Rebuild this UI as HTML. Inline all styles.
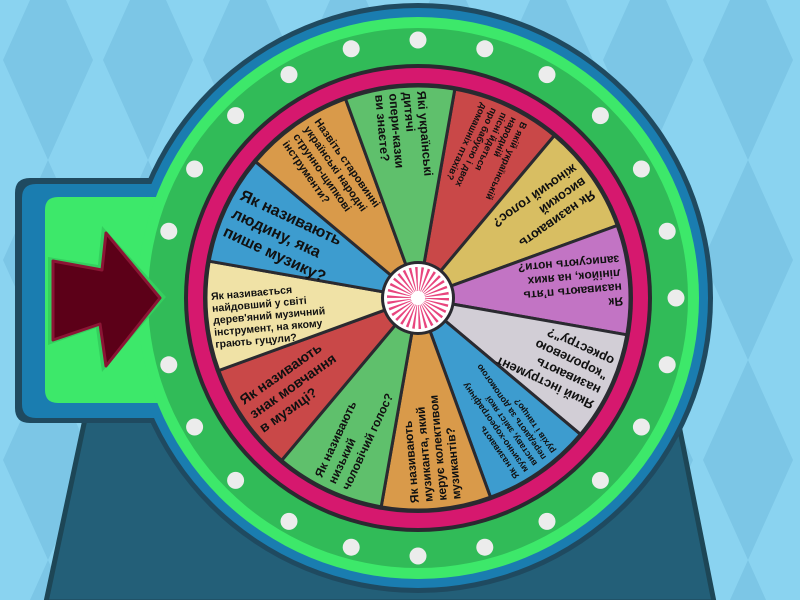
<!DOCTYPE html>
<html><head><meta charset="utf-8"><style>
html,body{margin:0;padding:0;width:800px;height:600px;overflow:hidden;background:#8ad3f0}
svg{display:block}
text{font-family:"Liberation Sans","DejaVu Sans",sans-serif;font-weight:bold;fill:#111}
</style></head><body>
<svg width="800" height="600" viewBox="0 0 800 600" xmlns="http://www.w3.org/2000/svg">
<defs>
<pattern id="bg" width="100" height="200" patternUnits="userSpaceOnUse" x="-2" y="-40">
<rect width="100" height="200" fill="#8ad3f0"/>
<polygon points="50,0 95,100 50,200 5,100" fill="#7cc6e6"/>
</pattern>
</defs>
<rect width="800" height="600" fill="url(#bg)"/>
<!-- pedestal -->
<polygon points="88,405 675,405 714,602 46,602" fill="#235f78" stroke="#1d4656" stroke-width="5"/>
<!-- tab + rings as unions -->
<path d="M30,178 H300 V423 H30 Q15,423 15,408 V193 Q15,178 30,178 Z" fill="#1f4a60"/>
<circle cx="418" cy="298" r="295" fill="#1f4a60"/>
<path d="M36,184 H300 V418 H36 Q22,418 22,404 V198 Q22,184 36,184 Z" fill="#1a7db0"/>
<circle cx="418" cy="298" r="290" fill="#1a7db0"/>
<path d="M58,197 H300 V403 H58 Q45,403 45,390 V210 Q45,197 58,197 Z" fill="#3de86a"/>
<circle cx="418" cy="298" r="281" fill="#3de86a"/>
<circle cx="418" cy="298" r="270" fill="#31bb58"/>
<circle cx="418" cy="298" r="234" fill="#2a2a30"/>
<circle cx="418" cy="298" r="230" fill="#d6186e"/>
<circle cx="418" cy="298" r="215" fill="#2a2a30"/>
<!-- dots -->
<g fill="#ececec">
<circle cx="676" cy="298" r="8.5"/><circle cx="667.2" cy="364.8" r="8.5"/><circle cx="641.4" cy="427" r="8.5"/><circle cx="600.4" cy="480.4" r="8.5"/><circle cx="547" cy="521.4" r="8.5"/><circle cx="484.8" cy="547.2" r="8.5"/><circle cx="418" cy="556" r="8.5"/><circle cx="351.2" cy="547.2" r="8.5"/><circle cx="289" cy="521.4" r="8.5"/><circle cx="235.6" cy="480.4" r="8.5"/><circle cx="194.6" cy="427" r="8.5"/><circle cx="168.8" cy="364.8" r="8.5"/><circle cx="168.8" cy="231.2" r="8.5"/><circle cx="194.6" cy="169" r="8.5"/><circle cx="235.6" cy="115.6" r="8.5"/><circle cx="289" cy="74.6" r="8.5"/><circle cx="351.2" cy="48.8" r="8.5"/><circle cx="418" cy="40" r="8.5"/><circle cx="484.8" cy="48.8" r="8.5"/><circle cx="547" cy="74.6" r="8.5"/><circle cx="600.4" cy="115.6" r="8.5"/><circle cx="641.4" cy="169" r="8.5"/><circle cx="667.2" cy="231.2" r="8.5"/>
</g>
<!-- wedges -->
<g stroke="#2a2a30" stroke-width="3" stroke-linejoin="round">
<path d="M418,298 L454.8,89.2 A212,212 0 0 1 554.3,135.6 Z" fill="#c94848"/>
<path d="M418,298 L554.3,135.6 A212,212 0 0 1 617.2,225.5 Z" fill="#d8be62"/>
<path d="M418,298 L617.2,225.5 A212,212 0 0 1 626.8,334.8 Z" fill="#c274c4"/>
<path d="M418,298 L626.8,334.8 A212,212 0 0 1 580.4,434.3 Z" fill="#d2ced6"/>
<path d="M418,298 L580.4,434.3 A212,212 0 0 1 490.5,497.2 Z" fill="#3d9ccf"/>
<path d="M418,298 L490.5,497.2 A212,212 0 0 1 381.2,506.8 Z" fill="#d99a4a"/>
<path d="M418,298 L381.2,506.8 A212,212 0 0 1 281.7,460.4 Z" fill="#5fc06c"/>
<path d="M418,298 L281.7,460.4 A212,212 0 0 1 218.8,370.5 Z" fill="#c94848"/>
<path d="M418,298 L218.8,370.5 A212,212 0 0 1 209.2,261.2 Z" fill="#f0e2a6"/>
<path d="M418,298 L209.2,261.2 A212,212 0 0 1 255.6,161.7 Z" fill="#3d9ccf"/>
<path d="M418,298 L255.6,161.7 A212,212 0 0 1 345.5,98.8 Z" fill="#d99a4a"/>
<path d="M418,298 L345.5,98.8 A212,212 0 0 1 454.8,89.2 Z" fill="#5fc06c"/>
</g>
<!-- texts -->
<g transform="translate(418,298) rotate(115)" font-size="9.5"><text x="-204" y="-19">В якій українській</text><text x="-204" y="-8">народній</text><text x="-204" y="3">пісні йдеться</text><text x="-204" y="14">про бабусю і двох</text><text x="-204" y="25">домашніх птахів?</text></g>
<g transform="translate(418,298) rotate(145)" font-size="13"><text x="-204" y="-11">Як називають</text><text x="-204" y="5">високий</text><text x="-204" y="21">жіночий голос?</text></g>
<g transform="translate(418,298) rotate(175)" font-size="12"><text x="-204" y="-17">Як</text><text x="-204" y="-3">називають п’ять</text><text x="-204" y="11">лінійок, на яких</text><text x="-204" y="25">записують ноти?</text></g>
<g transform="translate(418,298) rotate(205)" font-size="13"><text x="-204" y="-19">Який інструмент</text><text x="-204" y="-3">називають</text><text x="-204" y="13">"королевою</text><text x="-204" y="29">оркестру"?</text></g>
<g transform="translate(418,298) rotate(235)" font-size="9"><text x="-204" y="-19">Як називають</text><text x="-204" y="-8">музично-хореографічну</text><text x="-204" y="3">виставу, зміст якої</text><text x="-204" y="14">передають за допомогою</text><text x="-204" y="25">рухів і танцю?</text></g>
<g transform="translate(418,298) rotate(265)" font-size="12"><text x="-204" y="-17">Як називають</text><text x="-204" y="-3">музиканта, який</text><text x="-204" y="11">керує колективом</text><text x="-204" y="25">музикантів?</text></g>
<g transform="translate(418,298) rotate(295)" font-size="12"><text x="-204" y="-11">Як називають</text><text x="-204" y="4">низький</text><text x="-204" y="19">чоловічий голос?</text></g>
<g transform="translate(418,298) rotate(325)" font-size="14"><text x="-204" y="-12">Як називають</text><text x="-204" y="5">знак мовчання</text><text x="-204" y="22">в музиці?</text></g>
<g transform="translate(418,298) rotate(355)" font-size="10.5"><text x="-206" y="-16">Як називається</text><text x="-206" y="-4">найдовший у світі</text><text x="-206" y="8">дерев'яний музичний</text><text x="-206" y="20">інструмент, на якому</text><text x="-206" y="32">грають гуцули?</text></g>
<g transform="translate(418,298) rotate(25)" font-size="16"><text x="-204" y="-14">Як називають</text><text x="-204" y="6">людину, яка</text><text x="-204" y="26">пише музику?</text></g>
<g transform="translate(418,298) rotate(55)" font-size="11"><text x="-204" y="-16">Назвіть старовинні</text><text x="-204" y="-3">українські народні</text><text x="-204" y="10">струнно-щипкові</text><text x="-204" y="23">інструменти?</text></g>
<g transform="translate(418,298) rotate(85)" font-size="12.5"><text x="-206" y="-17">Які українські</text><text x="-206" y="-3">дитячі</text><text x="-206" y="11">опери-казки</text><text x="-206" y="25">ви знаєте?</text></g>
<!-- hub -->
<circle cx="418" cy="298" r="37" fill="#2a2a30"/>
<circle cx="418" cy="298" r="34" fill="#ffffff"/>
<circle cx="418" cy="298" r="19" fill="none" stroke="#e8457e" stroke-width="24" stroke-dasharray="1.6 2.38"/>
<circle cx="418" cy="298" r="7" fill="#ffffff"/>
<!-- arrow -->
<polygon points="48,257 98,265 102,226 166,297 102,372 96,328 48,345" fill="#34cf5e"/>
<polygon points="53,261 102,270 106,233 160,298 106,366 100,324 53,340" fill="#5c0018" stroke="#8b1535" stroke-width="3" stroke-linejoin="round"/>
</svg>
</body></html>
